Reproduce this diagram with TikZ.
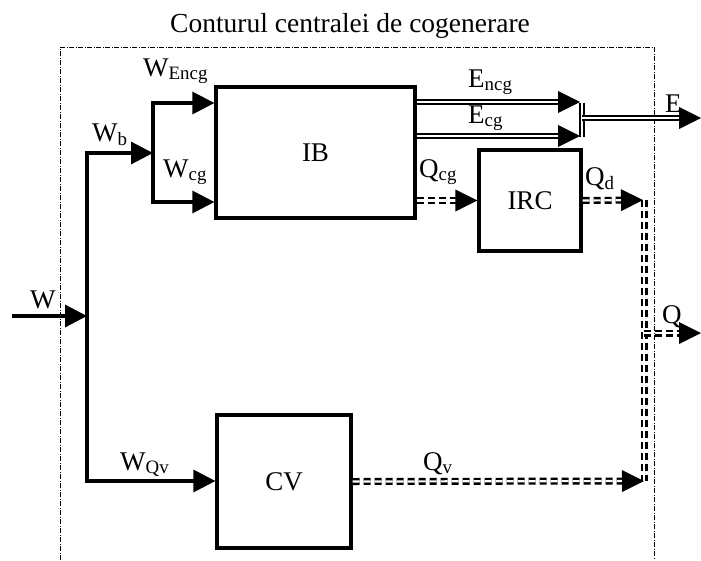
\documentclass[tikz,border=0pt]{standalone}
\usepackage{fontspec}
\setmainfont{Liberation Serif}
\usetikzlibrary{arrows.meta,decorations.markings}

\tikzset{
  box/.style={draw, line width=3.2pt, inner sep=0pt, font=\fontsize{27}{30}\selectfont},
  flow/.style={line width=3.2pt},
  bigtri/.tip={Triangle[length=22pt,width=22pt]},
  eline/.style={draw, double, double distance=2.4pt, line width=1.4pt},
  qline/.style={draw, double, double distance=2.2pt, line width=2.4pt, dash pattern=on 7pt off 4pt},
  headend/.style={shorten >=12pt, postaction={decorate, decoration={markings,
      mark=at position 1 with {\fill[solid] (0pt,0pt) -- (-22pt,11pt) -- (-22pt,-11pt) -- cycle;}}}},
  lbl/.style={anchor=base west, inner sep=0pt, font=\fontsize{27}{30}\selectfont},
  contour/.style={line width=0.8pt, dash pattern=on 5pt off 1.5pt on 1pt off 1.5pt},
}

\begin{document}
\begin{tikzpicture}[x=1pt,y=-1pt]
\useasboundingbox (0,0) rectangle (701,560);

% --- contour of the plant
\node[anchor=base, inner sep=0pt, font=\fontsize{27.5}{30}\selectfont] (title) at (350,32) {Conturul centralei de cogenerare};
\draw[contour] (60,560) |- (654,47) -- (654,560);

% --- blocks
\node[box, minimum width=199pt, minimum height=131pt] (IB) at (315.5,152.5) {IB};
\node[box, minimum width=102pt, minimum height=101pt] (IRC) at (530,200.5) {IRC};
\node[box, minimum width=134pt, minimum height=133pt] (CV) at (284,481.5) {CV};

% --- junction points
\coordinate (win) at (12,316);
\coordinate (jw) at (87,316);
\coordinate (jt) at (87,153);
\coordinate (jb) at (87,481);
\coordinate (sb) at (153,153);
\coordinate (st) at (153,103);
\coordinate (sbot) at (153,202);
\coordinate (encg) at (580,102);
\coordinate (ecg) at (580,136);
\coordinate (bart) at (582,103);
\coordinate (barb) at (582,137);
\coordinate (ebar) at (582,118);
\coordinate (eout) at (701,118);
\coordinate (qt) at (643,200);
\coordinate (qtop) at (644,200);
\coordinate (qm) at (644,333);
\coordinate (qout) at (701,333);
\coordinate (qb) at (644,481);

% --- fuel W
\draw[flow, -bigtri] (win) -- (jw);
\draw[flow, bigtri-bigtri] (sb) -- (jt) -- (jb) -- (CV.west |- jb);
\draw[flow, bigtri-bigtri] (IB.west |- st) -- (st) -- (sbot) -- (IB.west |- sbot);

% --- electricity
\draw[eline, headend] (IB.east |- encg) -- (encg);
\draw[eline, headend] (IB.east |- ecg) -- (ecg);
\draw[eline] (bart) -- (barb);
\draw[eline, headend] (ebar) -- (eout);

% --- heat
\draw[qline, headend] (IB.east |- IRC.west) -- (IRC.west);
\draw[qline, headend] (IRC.east) -- (qt);
\draw[qline] (qtop) -- (qb);
\draw[qline, headend] (qm) -- (qout);
\draw[qline, headend] (CV.east) -- (qb);

% --- labels
\node[lbl] (lw) at (30,308) {W};
\node[lbl] (lwb) at (92,141) {W\textsubscript{b}};
\node[lbl] (lwencg) at (143,76) {W\textsubscript{Encg}};
\node[lbl] (lwcg) at (163,177) {W\textsubscript{cg}};
\node[lbl] (lwqv) at (120,470) {W\textsubscript{Qv}};
\node[lbl] (lencg) at (468,87) {E\textsubscript{ncg}};
\node[lbl] (lecg) at (468,123) {E\textsubscript{cg}};
\node[lbl] (le) at (665,112) {E};
\node[lbl] (lqcg) at (419,177) {Q\textsubscript{cg}};
\node[lbl] (lqd) at (585,185) {Q\textsubscript{d}};
\node[lbl] (lq) at (662,323) {Q};
\node[lbl] (lqv) at (423,470) {Q\textsubscript{v}};

\end{tikzpicture}
\end{document}
